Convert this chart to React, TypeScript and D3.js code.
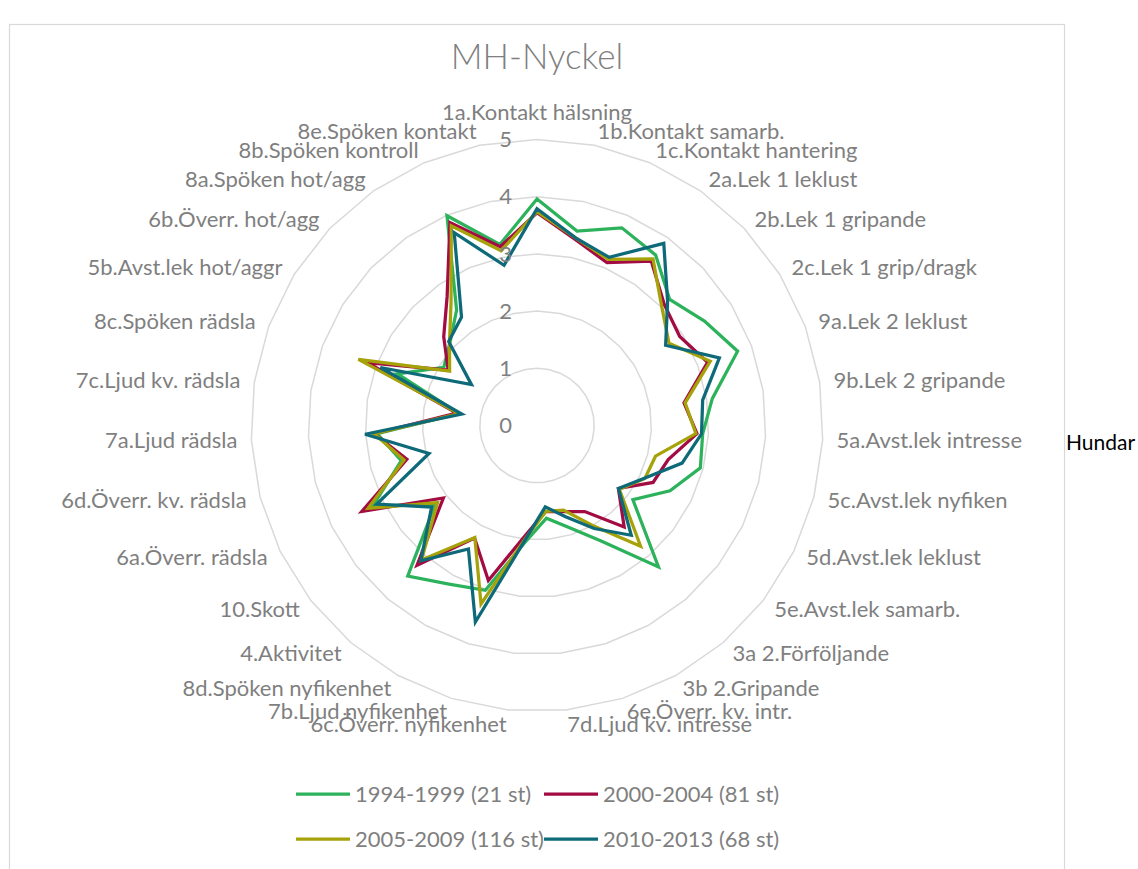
import * as d3 from 'd3';

const categories = [
  '1a.Kontakt hälsning', '1b.Kontakt samarb.', '1c.Kontakt hantering', '2a.Lek 1 leklust',
  '2b.Lek 1 gripande', '2c.Lek 1 grip/dragk', '9a.Lek 2 leklust', '9b.Lek 2 gripande',
  '5a.Avst.lek intresse', '5c.Avst.lek nyfiken', '5d.Avst.lek leklust', '5e.Avst.lek samarb.',
  '3a 2.Förföljande', '3b 2.Gripande', '6e.Överr. kv. intr.', '7d.Ljud kv. intresse',
  '6c.Överr. nyfikenhet', '7b.Ljud nyfikenhet', '8d.Spöken nyfikenhet', '4.Aktivitet',
  '10.Skott', '6a.Överr. rädsla', '6d.Överr. kv. rädsla', '7a.Ljud rädsla',
  '7c.Ljud kv. rädsla', '8c.Spöken rädsla', '5b.Avst.lek hot/aggr', '6b.Överr. hot/agg',
  '8a.Spöken hot/agg', '8b.Spöken kontroll', '8e.Spöken kontakt',
];

const s1994 = [3.96, 3.47, 3.76, 3.63, 3.2, 3.45, 3.74, 3.1, 2.9, 2.95, 2.59, 2.12, 3.26, 2.31, 1.87, 1.63,
  2.05, 3.02, 3.17, 3.47, 2.25, 3.2, 2.45, 2.8, 1.38, 2.6, 1.92, 2.1, 2.46, 3.99, 3.23];
const s2000 = [3.72, 3.32, 3.1, 3.5, 3.07, 2.94, 3.18, 2.6, 2.8, 2.37, 2.26, 1.8, 2.34, 1.72, 1.58, 1.51,
  1.92, 2.84, 2.25, 3.22, 2.07, 3.41, 2.35, 2.85, 1.42, 3.17, 1.83, 2.25, 2.75, 3.86, 3.19];
const s2005 = [3.74, 3.35, 3.16, 3.55, 3.01, 2.72, 3.23, 2.62, 2.78, 2.14, 2.1, 1.82, 2.78, 2.0, 1.55, 1.51,
  1.98, 3.27, 2.24, 3.1, 2.2, 3.29, 2.4, 2.85, 1.38, 3.33, 1.8, 2.11, 2.63, 3.8, 3.12];
const s2010 = [3.79, 3.35, 3.2, 3.88, 3.15, 2.65, 3.4, 2.93, 2.88, 2.62, 2.09, 1.8, 2.53, 2.06, 1.67, 1.43,
  2.0, 3.6, 2.47, 3.12, 2.33, 3.12, 1.95, 3.01, 1.33, 2.92, 1.35, 2.13, 2.31, 3.67, 2.86];

const seriesNames = ['1994-1999 (21 st)', '2000-2004 (81 st)', '2005-2009 (116 st)', '2010-2013 (68 st)'];
const seriesValues = [s1994, s2000, s2005, s2010];
const seriesColors = ['#2db25c', '#a30b43', '#a6a20a', '#0e6a78'];
const ticks = [0, 1, 2, 3, 4, 5];

const W = 1138;
const H = 869;
const cx = 537;
const cy = 425.5;
const R = 286;
const font = "Lato, 'Open Sans', sans-serif";
const grey = '#7f7f7f';

export default function App() {
  const n = categories.length;
  const r = d3.scaleLinear().domain([0, 5]).range([0, R]);
  const a = d3.scaleLinear().domain([0, n]).range([0, 2 * Math.PI]);

  const radial = d3
    .lineRadial<number>()
    .angle((_, i) => a(i))
    .radius((d) => r(d))
    .curve(d3.curveLinearClosed);

  const labelR = R + 14;

  return (
    <svg
      width={W}
      height={H}
      style={{ position: 'absolute', left: 0, top: 0, fontFamily: font }}
    >
      <rect x={0} y={0} width={W} height={H} fill="#fff" />
      <rect x={9.5} y={24.5} width={1055} height={900} fill="none" stroke="#d9d9d9" strokeWidth={1.2} />

      <text x={cx} y={57} textAnchor="middle" dy="0.35em" fontSize={35} fontWeight={300} fill={grey}>
        MH-Nyckel
      </text>

      <g transform={`translate(${cx},${cy})`}>
        {ticks.slice(1).map((t) => (
          <path
            key={t}
            d={radial(categories.map(() => t)) ?? ''}
            fill="none"
            stroke="#d9d9d9"
            strokeWidth={1.5}
          />
        ))}

        {seriesValues.map((vals, k) => (
          <path
            key={seriesNames[k]}
            d={radial(vals) ?? ''}
            fill="none"
            stroke={seriesColors[k]}
            strokeWidth={3.25}
            strokeLinejoin="miter"
          />
        ))}

        {ticks.map((t) => (
          <text key={t} x={-25} y={-r(t)} dy="0.35em" textAnchor="end" fontSize={22} fill={grey}>
            {t}
          </text>
        ))}

        {categories.map((c, i) => {
          const ang = a(i);
          const s = Math.sin(ang);
          const x = labelR * s;
          const y = -labelR * Math.cos(ang);
          const anchor = Math.abs(s) < 0.01 ? 'middle' : s > 0 ? 'start' : 'end';
          return (
            <text
              key={c}
              x={x}
              y={y}
              dy={i === 0 ? '-0.25em' : '0.35em'}
              textAnchor={anchor}
              fontSize={22}
              fill={grey}
            >
              {c}
            </text>
          );
        })}
      </g>

      <text x={1066} y={443} dy="0.35em" fontSize={21} fill="#000">
        Hundar
      </text>

      {seriesNames.map((name, k) => {
        const col = k % 2;
        const row = Math.floor(k / 2);
        const x0 = col === 0 ? 296 : 544;
        const y0 = row === 0 ? 794 : 839;
        return (
          <g key={name}>
            <line x1={x0} x2={x0 + 54} y1={y0} y2={y0} stroke={seriesColors[k]} strokeWidth={3.25} />
            <text x={x0 + 59} y={y0} dy="0.35em" fontSize={22} fill={grey}>
              {name}
            </text>
          </g>
        );
      })}
    </svg>
  );
}
